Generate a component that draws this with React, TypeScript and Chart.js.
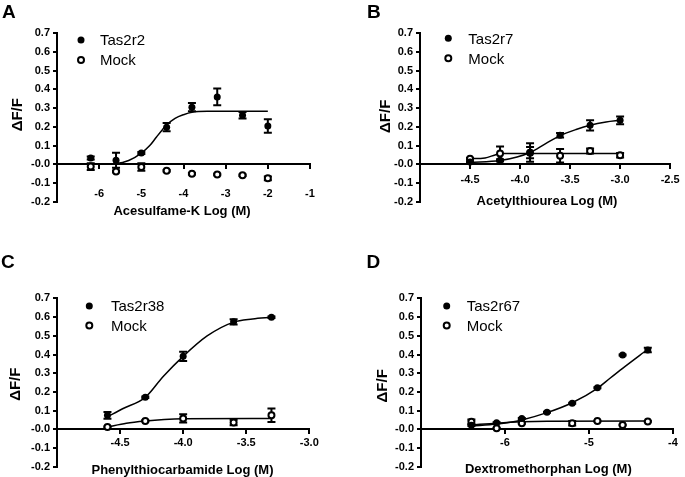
import React, { useEffect, useRef } from 'react';
import { Chart, registerables } from 'chart.js';

Chart.register(...registerables);

const FONT = '"Liberation Sans", Arial, Helvetica, sans-serif';

// ---------- Panel A: Acesulfame-K ----------
const aX = [-6.2, -5.6, -5.0, -4.4, -3.8, -3.2, -2.6, -2.0];
const aTas = [0.033, 0.022, 0.06, 0.198, 0.305, 0.36, 0.262, 0.205];
const aTasErr = [0.008, 0.04, 0.005, 0.022, 0.022, 0.045, 0.018, 0.036];
const aMock = [-0.012, -0.038, -0.015, -0.035, -0.05, -0.054, -0.058, -0.075];
const aMockErr = [0.018, 0.004, 0.02, 0.004, 0.004, 0.004, 0.004, 0.01];
const aFitX = [-6.2, -5.6, -5.3, -5.0, -4.8, -4.64, -4.5, -4.4, -4.2, -4.0, -3.8, -3.4, -2.0];
const aFitY = [0.0, 0.004, 0.02, 0.06, 0.1, 0.146, 0.185, 0.21, 0.245, 0.265, 0.278, 0.283, 0.284];

// ---------- Panel B: Acetylthiourea ----------
const bX = [-4.5, -4.2, -3.9, -3.6, -3.3, -3.0];
const bTas = [0.012, 0.021, 0.063, 0.155, 0.208, 0.235];
const bTasErr = [0.004, 0.006, 0.05, 0.012, 0.027, 0.021];
const bMock = [0.03, 0.057, 0.062, 0.045, 0.071, 0.048];
const bMockErr = [0.003, 0.038, 0.03, 0.036, 0.013, 0.012];
const bFitX = [-4.5, -4.2, -4.03, -3.9, -3.74, -3.6, -3.44, -3.3, -3.14, -3.0];
const bFitY = [0.01, 0.02, 0.039, 0.063, 0.112, 0.153, 0.186, 0.209, 0.226, 0.235];
const bMockFitX = [-4.5, -4.35, -4.25, -4.2, -3.0];
const bMockFitY = [0.03, 0.034, 0.05, 0.057, 0.057];

// ---------- Panel C: Phenylthiocarbamide ----------
const cX = [-4.6, -4.3, -4.0, -3.6, -3.3];
const cTas = [0.075, 0.171, 0.39, 0.575, 0.599];
const cTasErr = [0.018, 0.004, 0.025, 0.014, 0.004];
const cMock = [0.012, 0.045, 0.058, 0.036, 0.075];
const cMockErr = [0.003, 0.003, 0.022, 0.015, 0.036];
const cFitX = [-4.6, -4.48, -4.3, -4.16, -4.0, -3.81, -3.6, -3.45, -3.3];
const cFitY = [0.066, 0.11, 0.171, 0.281, 0.39, 0.499, 0.573, 0.59, 0.599];
const cMockFitX = [-4.6, -4.45, -4.3, -4.15, -4.0, -3.3];
const cMockFitY = [0.012, 0.032, 0.044, 0.052, 0.056, 0.058];

// ---------- Panel D: Dextromethorphan ----------
const dX = [-6.4, -6.1, -5.8, -5.5, -5.2, -4.9, -4.6, -4.3];
const dTas = [0.022, 0.035, 0.058, 0.091, 0.139, 0.222, 0.397, 0.424];
const dTasErr = [0.004, 0.003, 0.003, 0.003, 0.003, 0.003, 0.003, 0.012];
const dMock = [0.04, 0.005, 0.032, null, 0.032, 0.044, 0.023, 0.042];
const dMockErr = [0.013, 0.002, 0.002, 0, 0.012, 0.002, 0.002, 0.002];
const dFitX = [-6.4, -6.1, -5.8, -5.5, -5.2, -4.9, -4.75, -4.6, -4.3];
const dFitY = [0.018, 0.028, 0.05, 0.089, 0.142, 0.219, 0.273, 0.326, 0.428];
const dMockFitX = [-6.4, -6.1, -5.8, -5.5, -4.3];
const dMockFitY = [0.023, 0.033, 0.04, 0.043, 0.044];

const yMin = -0.2;
const yMax = 0.7;
const yStep = 0.1;

type Panel = {
  letter: string;
  letterPos: [number, number];
  tasLabel: string;
  legendPos: [number, number];
  legendTextX: number;
  legendGap: number;
  xTitle: string;
  xTitlePos: [number, number];
  yTitlePos: [number, number];
  area: { left: number; right: number; top: number; bottom: number };
  xMin: number;
  xMax: number;
  xStep: number;
  xDec: number;
  tickPad: number;
  x: number[];
  tas: (number | null)[];
  tasErr: number[];
  mock: (number | null)[];
  mockErr: number[];
  fits: [number[], number[]][];
};

const panels: Panel[] = [
  {
    letter: 'A', letterPos: [2, 18.3], tasLabel: 'Tas2r2', legendPos: [81, 40], legendTextX: 100, legendGap: 20,
    xTitle: 'Acesulfame-K Log (M)', xTitlePos: [182, 210.5], yTitlePos: [16.2, 114.7],
    area: { left: 57, right: 310, top: 33.3, bottom: 201.7 },
    xMin: -7, xMax: -1, xStep: 1, xDec: 0, tickPad: 18.7,
    x: aX, tas: aTas, tasErr: aTasErr, mock: aMock, mockErr: aMockErr,
    fits: [[aFitX, aFitY]],
  },
  {
    letter: 'B', letterPos: [367, 18.3], tasLabel: 'Tas2r7', legendPos: [448.3, 38.3], legendTextX: 468.3, legendGap: 20,
    xTitle: 'Acetylthiourea Log (M)', xTitlePos: [547, 200], yTitlePos: [384.2, 116.3],
    area: { left: 420, right: 673, top: 33.3, bottom: 201.7 },
    xMin: -5, xMax: -2.5, xStep: 0.5, xDec: 1, tickPad: 5.4,
    x: bX, tas: bTas, tasErr: bTasErr, mock: bMock, mockErr: bMockErr,
    fits: [[bFitX, bFitY], [bMockFitX, bMockFitY]],
  },
  {
    letter: 'C', letterPos: [1, 268.3], tasLabel: 'Tas2r38', legendPos: [89.3, 306], legendTextX: 111, legendGap: 19.5,
    xTitle: 'Phenylthiocarbamide Log (M)', xTitlePos: [182.5, 469.3], yTitlePos: [15, 384.2],
    area: { left: 57, right: 309.3, top: 298.4, bottom: 466.7 },
    xMin: -5, xMax: -3, xStep: 0.5, xDec: 1, tickPad: 3.4,
    x: cX, tas: cTas, tasErr: cTasErr, mock: cMock, mockErr: cMockErr,
    fits: [[cFitX, cFitY], [cMockFitX, cMockFitY]],
  },
  {
    letter: 'D', letterPos: [366.6, 268.3], tasLabel: 'Tas2r67', legendPos: [446.7, 306], legendTextX: 466.7, legendGap: 19.5,
    xTitle: 'Dextromethorphan Log (M)', xTitlePos: [548.3, 468.3], yTitlePos: [382, 385.8],
    area: { left: 421, right: 673, top: 298.4, bottom: 466.7 },
    xMin: -7, xMax: -4, xStep: 1, xDec: 0, tickPad: 3.4,
    x: dX, tas: dTas, tasErr: dTasErr, mock: dMock, mockErr: dMockErr,
    fits: [[dFitX, dFitY], [dMockFitX, dMockFitY]],
  },
];

const W = 685;
const H = 477;
const Y_SCALE_W = 30;

function pts(xs: number[], ys: (number | null)[]) {
  return xs.map((x, i) => ({ x, y: ys[i] }));
}

function makeChart(canvas: HTMLCanvasElement, p: Panel) {
  const annot = {
    id: 'annot_' + p.letter,
    beforeDatasetsDraw(chart: any) {
      const ctx = chart.ctx;
      const xs = chart.scales.x;
      const ys = chart.scales.y;
      ctx.save();
      ctx.strokeStyle = '#000';
      ctx.lineWidth = 2;
      chart.data.datasets.forEach((ds: any) => {
        if (!ds.errors) return;
        ds.data.forEach((pt: any, j: number) => {
          const e = ds.errors[j];
          if (pt.y == null || !e) return;
          const px = xs.getPixelForValue(pt.x);
          const y1 = ys.getPixelForValue(pt.y + e);
          const y2 = ys.getPixelForValue(pt.y - e);
          ctx.beginPath();
          ctx.moveTo(px, y1);
          ctx.lineTo(px, y2);
          ctx.moveTo(px - 4, y1);
          ctx.lineTo(px + 4, y1);
          ctx.moveTo(px - 4, y2);
          ctx.lineTo(px + 4, y2);
          ctx.stroke();
        });
      });
      ctx.restore();
    },
    afterDraw(chart: any) {
      const ctx = chart.ctx;
      ctx.save();
      ctx.fillStyle = '#000';
      ctx.textBaseline = 'alphabetic';
      // panel letter
      ctx.font = `bold 19px ${FONT}`;
      ctx.textAlign = 'left';
      ctx.fillText(p.letter, p.letterPos[0], p.letterPos[1]);
      // legend
      const [mx, my] = p.legendPos;
      ctx.beginPath();
      ctx.arc(mx, my, 3.5, 0, Math.PI * 2);
      ctx.fill();
      ctx.beginPath();
      ctx.arc(mx, my + p.legendGap, 3, 0, Math.PI * 2);
      ctx.lineWidth = 2;
      ctx.strokeStyle = '#000';
      ctx.stroke();
      ctx.font = `15px ${FONT}`;
      ctx.fillText(p.tasLabel, p.legendTextX, my + 5.4);
      ctx.fillText('Mock', p.legendTextX, my + p.legendGap + 5.4);
      // x title
      ctx.font = `bold 13px ${FONT}`;
      ctx.textAlign = 'center';
      ctx.fillText(p.xTitle, p.xTitlePos[0], p.xTitlePos[1] + 4.65);
      // y title
      ctx.font = `bold 15px ${FONT}`;
      ctx.translate(p.yTitlePos[0], p.yTitlePos[1]);
      ctx.rotate(-Math.PI / 2);
      ctx.fillText('ΔF/F', 0, 5.4);
      ctx.restore();
    },
  };

  const tickFont = { size: 11, weight: 'bold' as const, family: FONT };
  const min = p.xMin;

  const datasets: any[] = [
    {
      label: p.tasLabel,
      data: pts(p.x, p.tas),
      errors: p.tasErr,
      showLine: false,
      pointRadius: 3.5,
      pointBackgroundColor: '#000',
      pointBorderColor: '#000',
      pointBorderWidth: 0,
    },
    {
      label: 'Mock',
      data: pts(p.x, p.mock),
      errors: p.mockErr,
      showLine: false,
      pointRadius: 3,
      pointBackgroundColor: '#fff',
      pointBorderColor: '#000',
      pointBorderWidth: 2,
    },
    ...p.fits.map(([fx, fy], k) => ({
      label: 'fit' + k,
      data: pts(fx, fy),
      showLine: true,
      pointRadius: 0,
      borderColor: '#000',
      borderWidth: 1.5,
      cubicInterpolationMode: 'monotone',
      fill: false,
    })),
  ];

  return new Chart(canvas, {
    type: 'scatter',
    data: { datasets },
    plugins: [annot],
    options: {
      animation: false,
      responsive: false,
      events: [],
      layout: {
        padding: {
          left: p.area.left - Y_SCALE_W,
          right: W - p.area.right,
          top: p.area.top,
          bottom: H - p.area.bottom,
        },
      },
      plugins: { legend: { display: false }, tooltip: { enabled: false }, title: { display: false } },
      scales: {
        x: {
          type: 'linear',
          position: { y: 0 } as any,
          min: p.xMin,
          max: p.xMax,
          ticks: {
            stepSize: p.xStep,
            padding: p.tickPad,
            maxRotation: 0,
            autoSkip: false,
            color: '#000',
            font: tickFont,
            callback: (v: any) => (Math.abs(Number(v) - min) < 1e-9 ? '' : Number(v).toFixed(p.xDec)),
          },
          grid: {
            display: true,
            drawOnChartArea: false,
            drawTicks: true,
            tickLength: 4,
            lineWidth: 2,
            color: (c: any) => (c.tick && Math.abs(c.tick.value - min) < 1e-9 ? 'rgba(0,0,0,0)' : '#000'),
          },
          border: { display: true, color: '#000', width: 2 },
        },
        y: {
          type: 'linear',
          min: yMin,
          max: yMax,
          afterFit: (s: any) => {
            s.width = Y_SCALE_W;
          },
          ticks: {
            stepSize: yStep,
            padding: 3,
            color: '#000',
            font: tickFont,
            callback: (v: any) => Number(v).toFixed(1),
          },
          grid: {
            display: true,
            drawOnChartArea: false,
            drawTicks: true,
            tickLength: 4,
            lineWidth: 2,
            color: '#000',
          },
          border: { display: true, color: '#000', width: 2 },
        },
      },
    } as any,
  });
}

function PanelCanvas({ p }: { p: Panel }) {
  const ref = useRef<HTMLCanvasElement | null>(null);
  useEffect(() => {
    if (!ref.current) return;
    const chart = makeChart(ref.current, p);
    return () => chart.destroy();
  }, [p]);
  return (
    <canvas
      ref={ref}
      width={W}
      height={H}
      style={{ position: 'absolute', left: 0, top: 0, width: W, height: H }}
    />
  );
}

export default function App() {
  return (
    <div style={{ position: 'fixed', left: 0, top: 0, width: W, height: H, background: '#fff', overflow: 'hidden' }}>
      {panels.map((p) => (
        <PanelCanvas key={p.letter} p={p} />
      ))}
    </div>
  );
}
